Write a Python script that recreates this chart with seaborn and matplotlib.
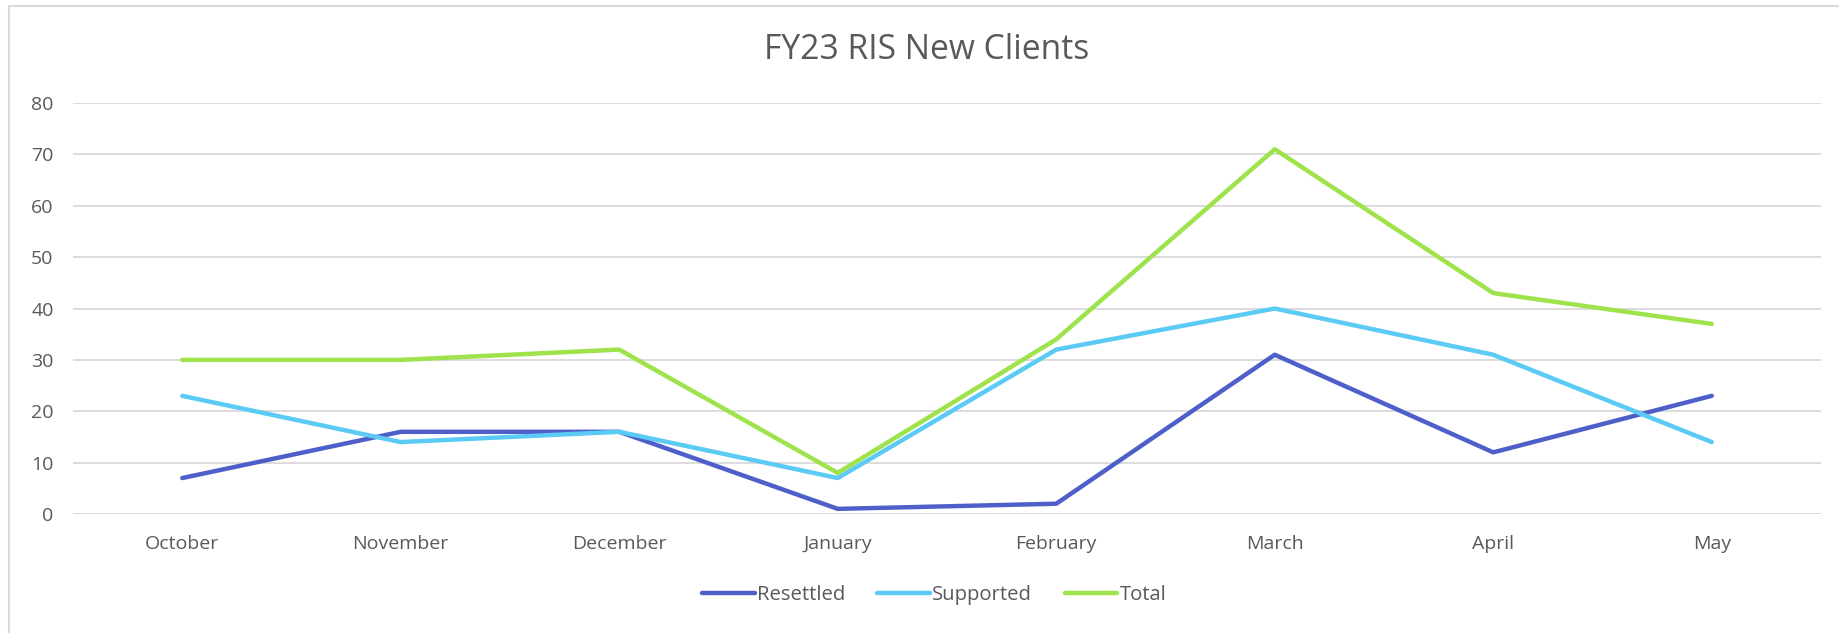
import pandas as pd
import matplotlib.pyplot as plt
import seaborn as sns
from matplotlib.patches import Rectangle

months = ["October", "November", "December", "January", "February", "March", "April", "May"]
resettled = [7, 16, 16, 1, 2, 31, 12, 23]
supported = [23, 14, 16, 7, 32, 40, 31, 14]
total = [30, 30, 32, 8, 34, 71, 43, 37]
series_names = ["Resettled", "Supported", "Total"]
colors = ["#4F5FC9", "#5BCAF5", "#9EE34B"]

df = pd.DataFrame({"month": months, "Resettled": resettled,
                   "Supported": supported, "Total": total})
long_df = df.melt(id_vars="month", var_name="series", value_name="clients")

sns.set_theme(style="white")
plt.rcParams['font.family'] = ['Open Sans', 'DejaVu Sans']
text_color = "#595959"

fig = plt.figure(figsize=(18.39, 6.33), dpi=100)
ax = fig.add_axes([73 / 1839, 1 - 514 / 633, (1821 - 73) / 1839, (514 - 103) / 633])

sns.lineplot(data=long_df, x="month", y="clients", hue="series",
             hue_order=series_names, palette=colors, linewidth=3.2,
             sort=False, ax=ax, legend=True)

ax.set_xlim(-0.5, len(months) - 0.5)
ax.set_ylim(0, 80)
ax.set_yticks(range(0, 81, 10))
ax.yaxis.grid(True, color="#D9D9D9", linewidth=1.3)
ax.xaxis.grid(False)
for s in ax.spines.values():
    s.set_visible(False)
ax.tick_params(axis="both", length=0, labelsize=14, labelcolor=text_color)
ax.tick_params(axis="x", pad=15)
ax.tick_params(axis="y", pad=14)
ax.set_xlabel("")
ax.set_ylabel("")

fig.text(927 / 1839, 1 - 50 / 633, "FY23 RIS New Clients", ha="center", va="center",
         fontsize=24.2, color=text_color)

handles, labels = ax.get_legend_handles_labels()
ax.legend(handles, labels, loc="center", bbox_to_anchor=(934 / 1839, 1 - 595 / 633),
          bbox_transform=fig.transFigure, ncol=3, frameon=False, fontsize=14.6,
          handlelength=2.6, handletextpad=0.1, columnspacing=1.6, labelcolor=text_color)

fig.patches.append(Rectangle((9 / 1839, -0.01), 1.0, 1 - 6 / 633 + 0.01,
                             transform=fig.transFigure, fill=False,
                             edgecolor="#D9D9D9", linewidth=1.5))

fig.savefig("out.png", dpi=100)
